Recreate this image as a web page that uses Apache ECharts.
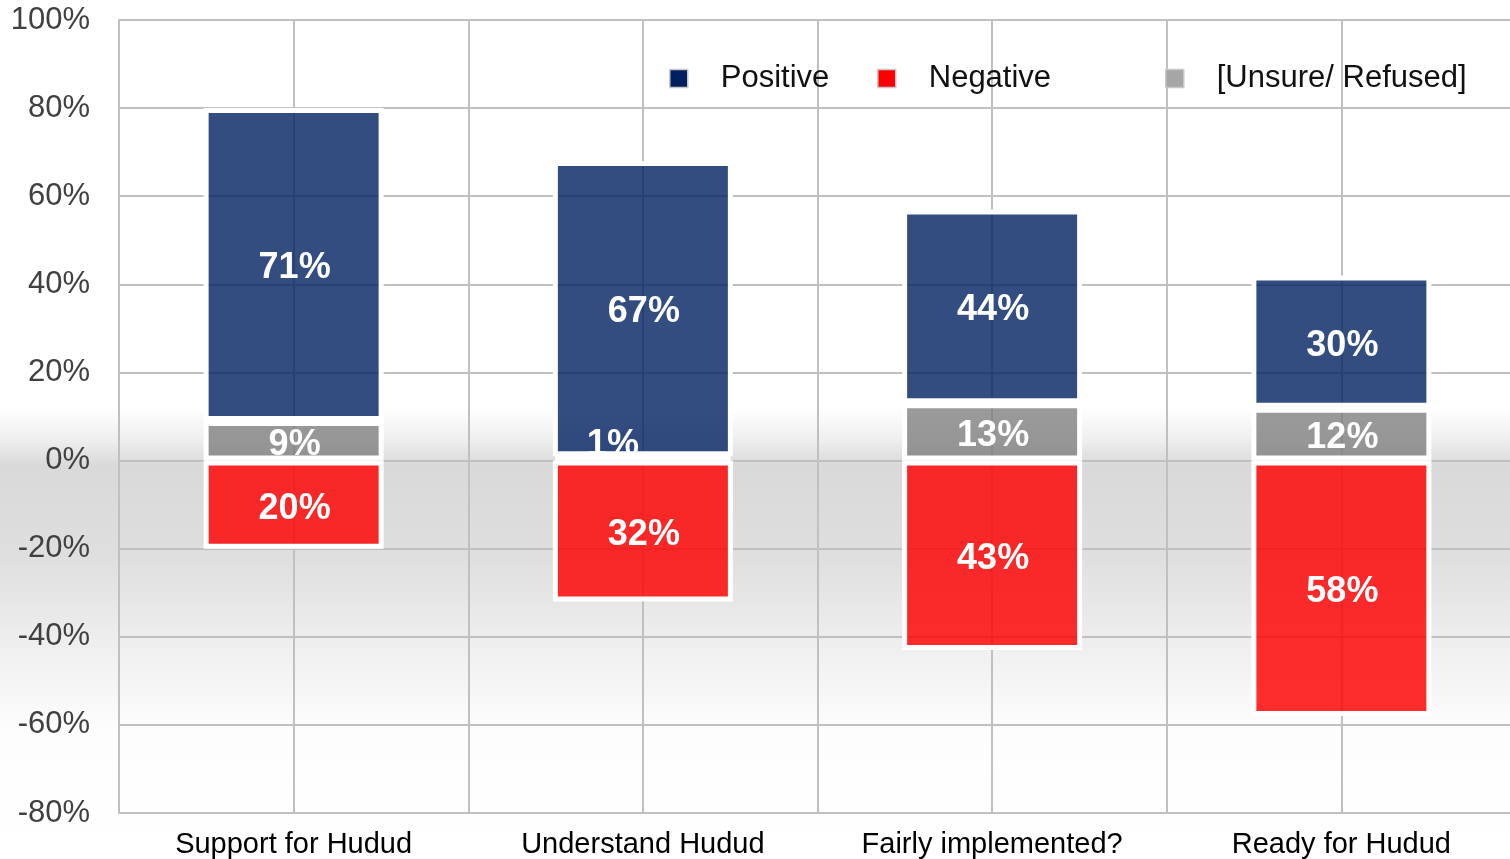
<!DOCTYPE html>
<html>
<head>
	<meta charset="utf-8">
	<title>Hudud</title>
	<script type="text/javascript" src="https://cdn.jsdelivr.net/npm/echarts@6/dist/echarts.min.js"></script>
	<style>
		html, body { margin: 0; padding: 0; background: #fff; }
	</style>
</head>
<body>
<div id="main" style="width: 1510px; height: 859px"></div>

<script type="text/javascript">
var categories = ['Support for Hudud', 'Understand Hudud', 'Fairly implemented?', 'Ready for Hudud'];
var positive = [71, 67, 44, 30];
var unsure = [9, 1, 13, 12];
var negative = [-20, -32, -43, -58];

var myChart = echarts.init(document.getElementById('main'));
var font = 'Liberation Sans, Arial, sans-serif';

var barLabel = {
    show: true,
    position: 'inside',
    color: '#fff',
    fontFamily: font,
    fontWeight: 'bold',
    fontSize: 36,
    offset: [1, 4],
    formatter: function (p) {
        return Math.abs(p.value) + '%';
    }
};

// the 1% slice is too thin, its label sits above it in the original
var unsureData = unsure.map(function (v, i) {
    if (v < 3) {
        return {value: v, label: {offset: [-30, -13]}};
    }
    return v;
});

function legendAt(name, color, left) {
    return {
        data: [{name: name, itemStyle: {color: color, borderColor: '#c8c8c8', borderWidth: 1.5}}],
        left: left,
        top: 58,
        icon: 'rect',
        itemWidth: 18,
        itemHeight: 18,
        textStyle: {
            fontFamily: font,
            fontSize: 31,
            color: '#111',
            padding: [0, 0, 0, 28]
        }
    };
}

option = {
    backgroundColor: new echarts.graphic.LinearGradient(0, 0, 0, 1, [
        {offset: 0, color: '#ffffff'},
        {offset: 0.475, color: '#ffffff'},
        {offset: 0.51, color: '#f0f0f0'},
        {offset: 0.542, color: '#d9d9d9'},
        {offset: 0.65, color: '#dfdfdf'},
        {offset: 0.745, color: '#eeeeee'},
        {offset: 0.85, color: '#fdfdfd'},
        {offset: 1, color: '#ffffff'}
    ]),
    animation: false,
    legend: [
        legendAt('Positive', '#002060', 664),
        legendAt('Negative', '#ff0000', 872),
        legendAt('[Unsure/ Refused]', '#a6a6a6', 1160)
    ],
    grid: {
        left: 119,
        right: -6,
        top: 20,
        bottom: 46,
        outerBoundsMode: 'none'
    },
    xAxis: [
        {
            type: 'category',
            data: categories,
            axisLine: {show: true, lineStyle: {color: '#c0c0c0', width: 2}},
            axisTick: {show: false},
            splitLine: {show: false},
            axisLabel: {
                fontFamily: font,
                fontSize: 29,
                color: '#000',
                margin: 17
            }
        },
        {
            // only draws the vertical grid (centres and category edges)
            type: 'value',
            min: 0,
            max: 4,
            interval: 0.5,
            position: 'bottom',
            axisLine: {show: false},
            axisTick: {show: false},
            axisLabel: {show: false},
            splitLine: {show: true, lineStyle: {color: '#c0c0c0', width: 2}}
        }
    ],
    yAxis: {
        type: 'value',
        min: -80,
        max: 100,
        interval: 20,
        axisLine: {show: true, lineStyle: {color: '#c0c0c0', width: 2}},
        axisTick: {show: false},
        axisLabel: {
            formatter: '{value}%',
            fontFamily: font,
            fontSize: 31,
            color: '#404040',
            margin: 29
        },
        splitLine: {show: true, lineStyle: {color: '#c0c0c0', width: 2}}
    },
    series: [
        {
            name: '[Unsure/ Refused]',
            type: 'bar',
            stack: 'all',
            barWidth: 180,
            data: unsureData,
            itemStyle: {color: 'rgba(120,120,120,0.75)', borderColor: '#fff', borderWidth: 5},
            label: barLabel,
            z: 3
        },
        {
            name: 'Positive',
            type: 'bar',
            stack: 'all',
            barWidth: 180,
            data: positive,
            itemStyle: {color: 'rgba(0,32,96,0.8)', borderColor: '#fff', borderWidth: 5},
            label: barLabel,
            z: 2
        },
        {
            name: 'Negative',
            type: 'bar',
            stack: 'all',
            barWidth: 180,
            data: negative,
            itemStyle: {color: 'rgba(255,0,0,0.82)', borderColor: '#fff', borderWidth: 5},
            label: barLabel,
            z: 2
        }
    ]
};

myChart.setOption(option);
</script>
</body>
</html>
